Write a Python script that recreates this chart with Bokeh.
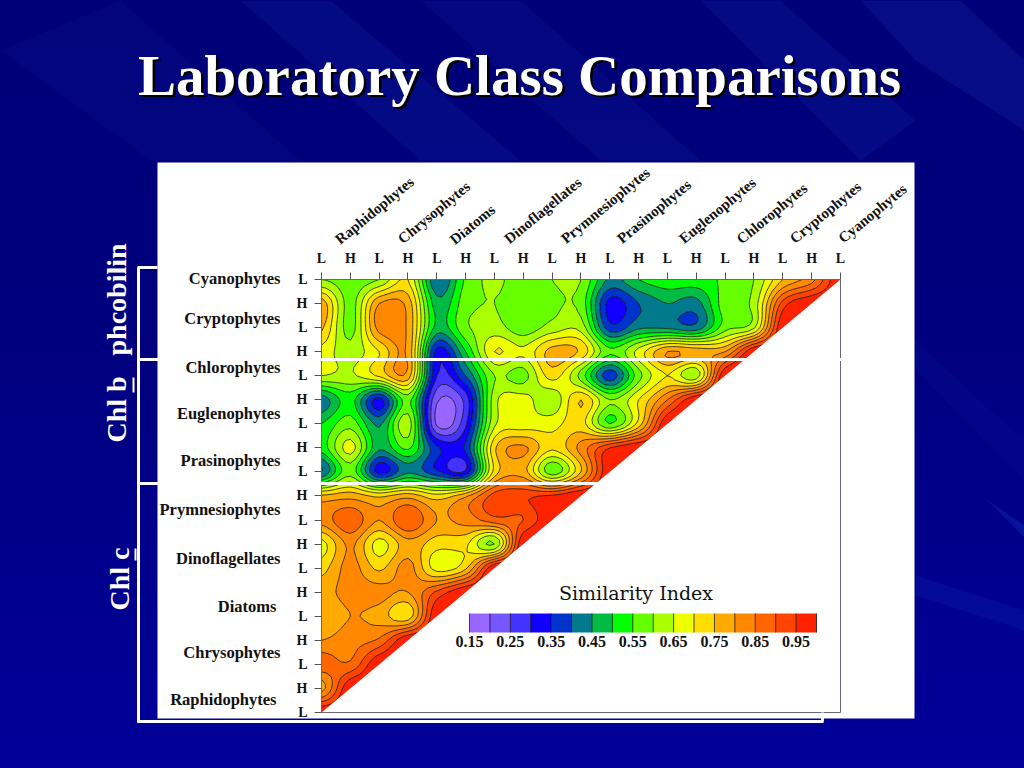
import numpy as np
from bokeh.plotting import figure
from bokeh.embed import file_html
from bokeh.resources import INLINE
from bokeh.core.properties import value
from bokeh.models import Range1d, LinearAxis, FixedTicker

# ---------- data ----------
title_text = "Laboratory Class Comparisons"
level_labels = ["L","H","L","H","L","H","L","H","L","H","L","H","L","H","L","H","L","H","L"]
groups_x = ["Raphidophytes","Chrysophytes","Diatoms","Dinoflagellates","Prymnesiophytes",
            "Prasinophytes","Euglenophytes","Chlorophytes","Cryptophytes","Cyanophytes"]
groups_y = ["Cyanophytes","Cryptophytes","Chlorophytes","Euglenophytes","Prasinophytes",
            "Prymnesiophytes","Dinoflagellates","Diatoms","Chrysophytes","Raphidophytes"]
levels = [0.15,0.20,0.25,0.30,0.35,0.40,0.45,0.50,0.55,0.60,0.65,0.70,0.75,0.80,0.85,0.90,0.95,1.00]
legend_ticks = [0.15,0.25,0.35,0.45,0.55,0.65,0.75,0.85,0.95]
palette = ["#9966FF","#7755FF","#4433FF","#1100FF","#0033CC","#007A8C","#00BB44","#00FF00","#66FF00",
           "#AAFF00","#EEFF00","#FFDD00","#FFAA00","#FF8800","#FF6600","#FF4400","#FF2200"]
row_00 = [.60,.57,.60,.70,.40,.56,.61,.57,.60,.60,.44,.50,.53,.53,.56,.60,.75,.83,1.0]
row_01 = [.78,.58,.80,.78,.47,.58,.60,.57,.59,.58,.33,.40,.45,.43,.58,.62,.92,1.0]
row_02 = [.76,.58,.82,.79,.48,.59,.62,.57,.62,.63,.37,.44,.44,.42,.58,.64,1.0]
row_03 = [.68,.62,.70,.79,.33,.50,.70,.66,.77,.74,.56,.67,.80,.78,.80,1.0]
row_04 = [.65,.64,.71,.78,.30,.40,.60,.58,.72,.58,.37,.58,.70,.62,1.0]
row_05 = [.42,.52,.33,.57,.21,.27,.63,.67,.61,.75,.60,.70,.85,1.0]
row_06 = [.50,.58,.44,.63,.19,.29,.64,.67,.68,.72,.55,.72,1.0]
row_07 = [.52,.67,.46,.56,.36,.36,.74,.81,.71,.82,.95,1.0]
row_08 = [.40,.58,.33,.44,.36,.31,.72,.77,.57,.75,1.0]
row_09 = [.76,.78,.74,.78,.72,.79,.92,.94,.96,1.0]
row_10 = [.82,.89,.80,.90,.80,.82,.88,.90,1.0]
row_11 = [.68,.81,.68,.78,.72,.71,.60,1.0]
row_12 = [.73,.82,.74,.82,.68,.74,1.0]
row_13 = [.78,.82,.82,.80,.91,1.0]
row_14 = [.75,.80,.78,.72,1.0]
row_15 = [.80,.83,.86,1.0]
row_16 = [.88,.86,1.0]
row_17 = [.78,1.0]
row_18 = [1.0]
rows = [row_00,row_01,row_02,row_03,row_04,row_05,row_06,row_07,row_08,row_09,
        row_10,row_11,row_12,row_13,row_14,row_15,row_16,row_17,row_18]

# ---------- page geometry (reference pixels) ----------
X0, DX, Y0, DY = 321.0, 28.83, 279.0, 24.05
def X(px): return (px - X0) / DX
def Y(py): return (py - Y0) / DY
W, H = 1024, 768

p = figure(width=W, height=H, output_backend="svg", toolbar_location=None,
           x_range=Range1d(X(0), X(W)), y_range=Range1d(Y(H), Y(0)),
           x_axis_type=None, y_axis_type=None, min_border=0,
           background_fill_color=None, border_fill_color=None, outline_line_color=None)
p.grid.visible = False

# background streaks
streaks = [
    ([240,330,520,420],[0,0,160,160],0.10),
    ([0,120,300,150],[50,0,160,160],0.05),
    ([420,520,700,600],[0,0,160,160],0.08),
    ([700,780,915,860],[0,0,120,160],0.10),
    ([860,960,1024,1024,915],[0,0,60,130,60],0.12),
    ([915,1024,1024,915],[575,610,630,595],0.10),
    ([985,1024,1024],[498,525,537],0.18),
    ([915,1024,1024,915],[340,440,480,370],0.05),
]
for sx, sy, a in streaks:
    p.patch([X(v) for v in sx], [Y(v) for v in sy], fill_color="#2a60e0", fill_alpha=a, line_color=None)

# white panel
p.quad(left=[X(157)], right=[X(914)], top=[Y(162)], bottom=[Y(718)], fill_color="white", line_color=None)

# ---------- similarity surface ----------
n = len(rows)
grid = np.ones((n, n))
for i, r in enumerate(rows):
    grid[i, :len(r)] = r

def refine(a, f, axis):
    a = np.moveaxis(a, axis, 0)
    m = a.shape[0]
    pad = np.concatenate([a[:1], a, a[-1:]], axis=0)
    out = []
    for k in range(m - 1):
        p0, p1, p2, p3 = pad[k], pad[k + 1], pad[k + 2], pad[k + 3]
        for s in range(f):
            t = s / f
            out.append(0.5 * (2 * p1 + (p2 - p0) * t + (2 * p0 - 5 * p1 + 4 * p2 - p3) * t ** 2
                              + (3 * p1 - p0 - 3 * p2 + p3) * t ** 3))
    out.append(a[-1])
    return np.moveaxis(np.array(out), 0, axis)

F = 6
fine = refine(refine(grid, F, 0), F, 1)
fine = np.clip(fine, 0.1501, 0.9995)
gx = np.linspace(0, n - 1, fine.shape[1])
gy = np.linspace(0, n - 1, fine.shape[0])
cr = p.contour(gx, gy, fine, levels, fill_color=palette, line_color="black", line_width=0.7, line_alpha=1.0)

# mask below the diagonal
p.patch([0, n - 1, n - 1], [n - 1, 0, n - 1], fill_color="white", line_color=None)

# ---------- axes ----------
ticks = list(range(n))
over = {i: s for i, s in zip(ticks, level_labels)}
def style(ax):
    ax.ticker = FixedTicker(ticks=ticks)
    ax.major_label_overrides = over
    ax.major_label_text_font = "Liberation Serif"
    ax.major_label_text_font_style = "bold"
    ax.major_label_text_font_size = "14px"
    ax.major_label_text_color = "#111111"
    ax.major_tick_out = 7
    ax.major_tick_in = 0
    ax.minor_tick_out = 0
    ax.minor_tick_in = 0
    ax.major_label_standoff = 7
    ax.axis_line_color = "#666677"
    ax.major_tick_line_color = "#555555"
    ax.bounds = (0, n - 1)
top_ax = LinearAxis(fixed_location=0); style(top_ax); p.add_layout(top_ax, "above")
left_ax = LinearAxis(fixed_location=0); style(left_ax); p.add_layout(left_ax, "left")
for side in ("right", "below"):
    ax = LinearAxis(fixed_location=n - 1, ticker=FixedTicker(ticks=[]), bounds=(0, n - 1),
                    axis_line_color="#666677", major_label_text_font_size="0px",
                    major_tick_line_color=None, minor_tick_line_color=None)
    p.add_layout(ax, side)

# ---------- group labels ----------
serif = value("Liberation Serif")
p.text([X(v) for v in [374,433.5,472,542.5,605,653.5,717,771.5,825,872]],
       [Y(v) for v in [210,212,224,210,205,211,210,213,212,213]], text=groups_x, angle=39.5, angle_units="deg",
       text_font=serif, text_font_style="bold", text_font_size="15px", text_color="#111111",
       text_align="center", text_baseline="middle")
p.text([X(v) for v in [280,280,280,280,280,280,280,276,280,276]],
       [Y(v) for v in [278,318,367,413,460,509,558,606,652,699]], text=groups_y,
       text_font=serif, text_font_style="bold", text_font_size="16.5px", text_color="#111111",
       text_align="right", text_baseline="middle")

# ---------- brackets ----------
wl = dict(line_color="white", level="overlay")
p.segment([X(137),X(137),X(137),X(137),X(138),X(822)],
          [Y(267),Y(359),Y(483),Y(721),Y(267),Y(712)],
          [X(157),X(841),X(598),X(823),X(138),X(822)],
          [Y(267),Y(359),Y(483),Y(721),Y(722),Y(721)], line_width=3, **wl)

# ---------- side text ----------
side_t = dict(text_font=serif, text_font_style="bold", text_font_size="28px", text_color="white",
              angle=90, angle_units="deg", text_align="left", text_baseline="middle")
p.text([X(116)], [Y(442)], text=["Chl b"], **side_t)
p.text([X(116)], [Y(355)], text=["phcobilin"], **side_t)
p.text([X(119)], [Y(610)], text=["Chl c"], **side_t)
p.segment([X(133),X(135)], [Y(377),Y(548)], [X(133),X(135)], [Y(392),Y(560)], line_color="white", line_width=2)

# ---------- title ----------
t = dict(text_font=serif, text_font_style="bold", text_font_size="57px", text_align="center", text_baseline="middle")
p.text([X(521.5)], [Y(77)], text=[title_text], text_color="black", **t)
p.text([X(519)], [Y(74.5)], text=[title_text], text_color="white", **t)

# ---------- legend ----------
p.text([X(635.5)], [Y(592)], text=["Similarity Index"], text_font=value("DejaVu Serif"), text_font_size="19px",
       text_color="#111111", text_align="center", text_baseline="middle")
cb = cr.construct_color_bar(location=(469, 768 - 649), width=347, height=19, orientation="horizontal",
                            major_tick_line_color=None,
                            major_label_text_font="Liberation Serif", major_label_text_font_style="bold",
                            major_label_text_font_size="16px", major_label_text_color="#111111",
                            label_standoff=3, bar_line_color="#333333", background_fill_color=None,
                            padding=0, margin=0, border_line_color=None)
cb.ticker = FixedTicker(ticks=legend_ticks)
p.add_layout(cb, "center")

html = file_html(p, INLINE)
html = html.replace("<head>", "<head><style>html,body{background:linear-gradient(180deg,#000078 0%,#00007f 45%,#00009a 100%) fixed;overflow:hidden}</style>", 1)
open("out.html", "w").write(html)
